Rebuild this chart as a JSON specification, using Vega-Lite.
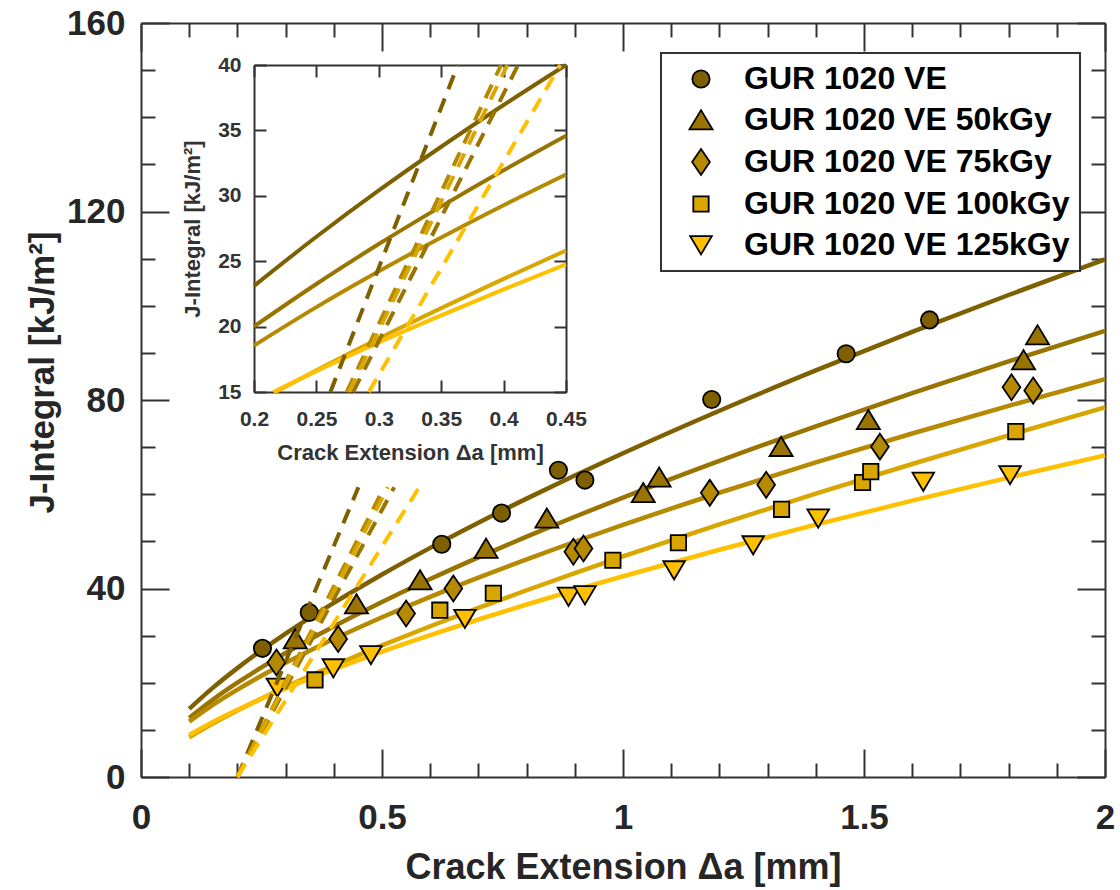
{
  "$schema": "https://vega.github.io/schema/vega-lite/v6.json",
  "width": 964,
  "height": 754,
  "autosize": "none",
  "padding": {"left": 141, "top": 23, "right": 15, "bottom": 113},
  "background": "white",
  "config": {
    "view": {"stroke": null},
    "font": "Liberation Sans",
    "axis": {
      "domainColor": "#333333", "domainWidth": 2, "tickColor": "#333333", "tickWidth": 2,
      "grid": false, "labelFlush": false, "labelOverlap": false,
      "labelFont": "Liberation Sans", "labelFontWeight": "bold", "labelColor": "#262626",
      "titleFont": "Liberation Sans", "titleFontWeight": "bold", "titleColor": "#262626"
    },
    "legend": {
      "labelFont": "Liberation Sans", "labelFontWeight": "bold", "labelFontSize": 32, "labelColor": "#000000",
      "labelLimit": 0, "symbolStrokeColor": "#000000", "symbolStrokeWidth": 1.8, "symbolSize": 576,
      "strokeColor": "#333333", "strokeWidth": 2, "fillColor": "white", "padding": 10,
      "rowPadding": 9, "labelOffset": 27, "symbolOffset": 14
    }
  },
  "datasets": {
    "pts": [
      {"series": "GUR 1020 VE", "da": 0.252, "J": 27.3},
      {"series": "GUR 1020 VE", "da": 0.349, "J": 34.9},
      {"series": "GUR 1020 VE", "da": 0.624, "J": 49.4},
      {"series": "GUR 1020 VE", "da": 0.748, "J": 56.0},
      {"series": "GUR 1020 VE", "da": 0.866, "J": 65.1},
      {"series": "GUR 1020 VE", "da": 0.921, "J": 63.0},
      {"series": "GUR 1020 VE", "da": 1.184, "J": 80.1},
      {"series": "GUR 1020 VE", "da": 1.463, "J": 89.8},
      {"series": "GUR 1020 VE", "da": 1.636, "J": 97.0},
      {"series": "GUR 1020 VE 50kGy", "da": 0.32, "J": 29.3},
      {"series": "GUR 1020 VE 50kGy", "da": 0.447, "J": 36.7},
      {"series": "GUR 1020 VE 50kGy", "da": 0.579, "J": 41.8},
      {"series": "GUR 1020 VE 50kGy", "da": 0.716, "J": 48.5},
      {"series": "GUR 1020 VE 50kGy", "da": 0.842, "J": 54.9},
      {"series": "GUR 1020 VE 50kGy", "da": 1.042, "J": 60.3},
      {"series": "GUR 1020 VE 50kGy", "da": 1.075, "J": 63.6},
      {"series": "GUR 1020 VE 50kGy", "da": 1.328, "J": 70.1},
      {"series": "GUR 1020 VE 50kGy", "da": 1.509, "J": 75.8},
      {"series": "GUR 1020 VE 50kGy", "da": 1.831, "J": 88.5},
      {"series": "GUR 1020 VE 50kGy", "da": 1.86, "J": 93.8},
      {"series": "GUR 1020 VE 75kGy", "da": 0.281, "J": 24.3},
      {"series": "GUR 1020 VE 75kGy", "da": 0.409, "J": 29.3},
      {"series": "GUR 1020 VE 75kGy", "da": 0.55, "J": 34.7},
      {"series": "GUR 1020 VE 75kGy", "da": 0.648, "J": 40.0},
      {"series": "GUR 1020 VE 75kGy", "da": 0.897, "J": 47.8},
      {"series": "GUR 1020 VE 75kGy", "da": 0.918, "J": 48.5},
      {"series": "GUR 1020 VE 75kGy", "da": 1.18, "J": 60.3},
      {"series": "GUR 1020 VE 75kGy", "da": 1.297, "J": 62.0},
      {"series": "GUR 1020 VE 75kGy", "da": 1.533, "J": 70.1},
      {"series": "GUR 1020 VE 75kGy", "da": 1.806, "J": 82.7},
      {"series": "GUR 1020 VE 75kGy", "da": 1.851, "J": 82.0},
      {"series": "GUR 1020 VE 100kGy", "da": 0.361, "J": 20.6},
      {"series": "GUR 1020 VE 100kGy", "da": 0.62, "J": 35.4},
      {"series": "GUR 1020 VE 100kGy", "da": 0.731, "J": 39.0},
      {"series": "GUR 1020 VE 100kGy", "da": 0.979, "J": 46.0},
      {"series": "GUR 1020 VE 100kGy", "da": 1.115, "J": 49.7},
      {"series": "GUR 1020 VE 100kGy", "da": 1.329, "J": 56.8},
      {"series": "GUR 1020 VE 100kGy", "da": 1.497, "J": 62.5},
      {"series": "GUR 1020 VE 100kGy", "da": 1.514, "J": 64.8},
      {"series": "GUR 1020 VE 100kGy", "da": 1.815, "J": 73.3},
      {"series": "GUR 1020 VE 125kGy", "da": 0.283, "J": 19.0},
      {"series": "GUR 1020 VE 125kGy", "da": 0.399, "J": 23.1},
      {"series": "GUR 1020 VE 125kGy", "da": 0.477, "J": 25.9},
      {"series": "GUR 1020 VE 125kGy", "da": 0.672, "J": 33.6},
      {"series": "GUR 1020 VE 125kGy", "da": 0.887, "J": 38.3},
      {"series": "GUR 1020 VE 125kGy", "da": 0.921, "J": 38.6},
      {"series": "GUR 1020 VE 125kGy", "da": 1.106, "J": 43.9},
      {"series": "GUR 1020 VE 125kGy", "da": 1.27, "J": 49.2},
      {"series": "GUR 1020 VE 125kGy", "da": 1.405, "J": 54.9},
      {"series": "GUR 1020 VE 125kGy", "da": 1.623, "J": 62.7},
      {"series": "GUR 1020 VE 125kGy", "da": 1.803, "J": 64.1}
    ],
    "fit": [
      {"series": "GUR 1020 VE", "da": 0.1, "J": 14.45}, {"series": "GUR 1020 VE", "da": 0.15, "J": 19.02}, {"series": "GUR 1020 VE", "da": 0.2, "J": 23.11}, {"series": "GUR 1020 VE", "da": 0.25, "J": 26.87}, {"series": "GUR 1020 VE", "da": 0.3, "J": 30.41}, {"series": "GUR 1020 VE", "da": 0.35, "J": 33.75}, {"series": "GUR 1020 VE", "da": 0.4, "J": 36.94}, {"series": "GUR 1020 VE", "da": 0.45, "J": 40.01}, {"series": "GUR 1020 VE", "da": 0.5, "J": 42.97}, {"series": "GUR 1020 VE", "da": 0.6, "J": 48.62}, {"series": "GUR 1020 VE", "da": 0.7, "J": 53.96}, {"series": "GUR 1020 VE", "da": 0.8, "J": 59.07}, {"series": "GUR 1020 VE", "da": 0.9, "J": 63.97}, {"series": "GUR 1020 VE", "da": 1.0, "J": 68.7}, {"series": "GUR 1020 VE", "da": 1.2, "J": 77.73}, {"series": "GUR 1020 VE", "da": 1.4, "J": 86.27}, {"series": "GUR 1020 VE", "da": 1.6, "J": 94.44}, {"series": "GUR 1020 VE", "da": 1.8, "J": 102.28}, {"series": "GUR 1020 VE", "da": 2.0, "J": 109.84},
      {"series": "GUR 1020 VE 50kGy", "da": 0.1, "J": 12.53}, {"series": "GUR 1020 VE 50kGy", "da": 0.15, "J": 16.48}, {"series": "GUR 1020 VE 50kGy", "da": 0.2, "J": 20.01}, {"series": "GUR 1020 VE 50kGy", "da": 0.25, "J": 23.26}, {"series": "GUR 1020 VE 50kGy", "da": 0.3, "J": 26.31}, {"series": "GUR 1020 VE 50kGy", "da": 0.35, "J": 29.19}, {"series": "GUR 1020 VE 50kGy", "da": 0.4, "J": 31.95}, {"series": "GUR 1020 VE 50kGy", "da": 0.45, "J": 34.59}, {"series": "GUR 1020 VE 50kGy", "da": 0.5, "J": 37.14}, {"series": "GUR 1020 VE 50kGy", "da": 0.6, "J": 42.01}, {"series": "GUR 1020 VE 50kGy", "da": 0.7, "J": 46.61}, {"series": "GUR 1020 VE 50kGy", "da": 0.8, "J": 51.01}, {"series": "GUR 1020 VE 50kGy", "da": 0.9, "J": 55.23}, {"series": "GUR 1020 VE 50kGy", "da": 1.0, "J": 59.3}, {"series": "GUR 1020 VE 50kGy", "da": 1.2, "J": 67.07}, {"series": "GUR 1020 VE 50kGy", "da": 1.4, "J": 74.42}, {"series": "GUR 1020 VE 50kGy", "da": 1.6, "J": 81.44}, {"series": "GUR 1020 VE 50kGy", "da": 1.8, "J": 88.18}, {"series": "GUR 1020 VE 50kGy", "da": 2.0, "J": 94.68},
      {"series": "GUR 1020 VE 75kGy", "da": 0.1, "J": 11.76}, {"series": "GUR 1020 VE 75kGy", "da": 0.15, "J": 15.35}, {"series": "GUR 1020 VE 75kGy", "da": 0.2, "J": 18.55}, {"series": "GUR 1020 VE 75kGy", "da": 0.25, "J": 21.49}, {"series": "GUR 1020 VE 75kGy", "da": 0.3, "J": 24.23}, {"series": "GUR 1020 VE 75kGy", "da": 0.35, "J": 26.81}, {"series": "GUR 1020 VE 75kGy", "da": 0.4, "J": 29.28}, {"series": "GUR 1020 VE 75kGy", "da": 0.45, "J": 31.63}, {"series": "GUR 1020 VE 75kGy", "da": 0.5, "J": 33.9}, {"series": "GUR 1020 VE 75kGy", "da": 0.6, "J": 38.23}, {"series": "GUR 1020 VE 75kGy", "da": 0.7, "J": 42.31}, {"series": "GUR 1020 VE 75kGy", "da": 0.8, "J": 46.19}, {"series": "GUR 1020 VE 75kGy", "da": 0.9, "J": 49.92}, {"series": "GUR 1020 VE 75kGy", "da": 1.0, "J": 53.5}, {"series": "GUR 1020 VE 75kGy", "da": 1.2, "J": 60.32}, {"series": "GUR 1020 VE 75kGy", "da": 1.4, "J": 66.76}, {"series": "GUR 1020 VE 75kGy", "da": 1.6, "J": 72.89}, {"series": "GUR 1020 VE 75kGy", "da": 1.8, "J": 78.76}, {"series": "GUR 1020 VE 75kGy", "da": 2.0, "J": 84.42},
      {"series": "GUR 1020 VE 100kGy", "da": 0.1, "J": 8.42}, {"series": "GUR 1020 VE 100kGy", "da": 0.15, "J": 11.39}, {"series": "GUR 1020 VE 100kGy", "da": 0.2, "J": 14.11}, {"series": "GUR 1020 VE 100kGy", "da": 0.25, "J": 16.66}, {"series": "GUR 1020 VE 100kGy", "da": 0.3, "J": 19.09}, {"series": "GUR 1020 VE 100kGy", "da": 0.35, "J": 21.41}, {"series": "GUR 1020 VE 100kGy", "da": 0.4, "J": 23.65}, {"series": "GUR 1020 VE 100kGy", "da": 0.45, "J": 25.82}, {"series": "GUR 1020 VE 100kGy", "da": 0.5, "J": 27.92}, {"series": "GUR 1020 VE 100kGy", "da": 0.6, "J": 31.99}, {"series": "GUR 1020 VE 100kGy", "da": 0.7, "J": 35.88}, {"series": "GUR 1020 VE 100kGy", "da": 0.8, "J": 39.63}, {"series": "GUR 1020 VE 100kGy", "da": 0.9, "J": 43.27}, {"series": "GUR 1020 VE 100kGy", "da": 1.0, "J": 46.8}, {"series": "GUR 1020 VE 100kGy", "da": 1.2, "J": 53.61}, {"series": "GUR 1020 VE 100kGy", "da": 1.4, "J": 60.13}, {"series": "GUR 1020 VE 100kGy", "da": 1.6, "J": 66.42}, {"series": "GUR 1020 VE 100kGy", "da": 1.8, "J": 72.51}, {"series": "GUR 1020 VE 100kGy", "da": 2.0, "J": 78.44},
      {"series": "GUR 1020 VE 125kGy", "da": 0.1, "J": 8.9}, {"series": "GUR 1020 VE 125kGy", "da": 0.15, "J": 11.73}, {"series": "GUR 1020 VE 125kGy", "da": 0.2, "J": 14.26}, {"series": "GUR 1020 VE 125kGy", "da": 0.25, "J": 16.6}, {"series": "GUR 1020 VE 125kGy", "da": 0.3, "J": 18.79}, {"series": "GUR 1020 VE 125kGy", "da": 0.35, "J": 20.86}, {"series": "GUR 1020 VE 125kGy", "da": 0.4, "J": 22.85}, {"series": "GUR 1020 VE 125kGy", "da": 0.45, "J": 24.75}, {"series": "GUR 1020 VE 125kGy", "da": 0.5, "J": 26.59}, {"series": "GUR 1020 VE 125kGy", "da": 0.6, "J": 30.1}, {"series": "GUR 1020 VE 125kGy", "da": 0.7, "J": 33.42}, {"series": "GUR 1020 VE 125kGy", "da": 0.8, "J": 36.6}, {"series": "GUR 1020 VE 125kGy", "da": 0.9, "J": 39.65}, {"series": "GUR 1020 VE 125kGy", "da": 1.0, "J": 42.6}, {"series": "GUR 1020 VE 125kGy", "da": 1.2, "J": 48.22}, {"series": "GUR 1020 VE 125kGy", "da": 1.4, "J": 53.55}, {"series": "GUR 1020 VE 125kGy", "da": 1.6, "J": 58.64}, {"series": "GUR 1020 VE 125kGy", "da": 1.8, "J": 63.53}, {"series": "GUR 1020 VE 125kGy", "da": 2.0, "J": 68.25}
    ],
    "blunt": [
      {"series": "GUR 1020 VE", "da": 0.2, "J": 0}, {"series": "GUR 1020 VE", "da": 0.451, "J": 61.5},
      {"series": "GUR 1020 VE 50kGy", "da": 0.2, "J": 0}, {"series": "GUR 1020 VE 50kGy", "da": 0.5254, "J": 61.5},
      {"series": "GUR 1020 VE 75kGy", "da": 0.2, "J": 0}, {"series": "GUR 1020 VE 75kGy", "da": 0.5045, "J": 61.5},
      {"series": "GUR 1020 VE 100kGy", "da": 0.2, "J": 0}, {"series": "GUR 1020 VE 100kGy", "da": 0.5122, "J": 61.5},
      {"series": "GUR 1020 VE 125kGy", "da": 0.2, "J": 0}, {"series": "GUR 1020 VE 125kGy", "da": 0.5773, "J": 61.5}
    ],
    "fitInset": [
      {"series": "GUR 1020 VE", "da": 0.2, "J": 23.11}, {"series": "GUR 1020 VE", "da": 0.25, "J": 26.87}, {"series": "GUR 1020 VE", "da": 0.3, "J": 30.41}, {"series": "GUR 1020 VE", "da": 0.35, "J": 33.75}, {"series": "GUR 1020 VE", "da": 0.4, "J": 36.94}, {"series": "GUR 1020 VE", "da": 0.45, "J": 40.0},
      {"series": "GUR 1020 VE 50kGy", "da": 0.2, "J": 20.01}, {"series": "GUR 1020 VE 50kGy", "da": 0.25, "J": 23.26}, {"series": "GUR 1020 VE 50kGy", "da": 0.3, "J": 26.31}, {"series": "GUR 1020 VE 50kGy", "da": 0.35, "J": 29.19}, {"series": "GUR 1020 VE 50kGy", "da": 0.4, "J": 31.95}, {"series": "GUR 1020 VE 50kGy", "da": 0.45, "J": 34.59},
      {"series": "GUR 1020 VE 75kGy", "da": 0.2, "J": 18.55}, {"series": "GUR 1020 VE 75kGy", "da": 0.25, "J": 21.49}, {"series": "GUR 1020 VE 75kGy", "da": 0.3, "J": 24.23}, {"series": "GUR 1020 VE 75kGy", "da": 0.35, "J": 26.81}, {"series": "GUR 1020 VE 75kGy", "da": 0.4, "J": 29.28}, {"series": "GUR 1020 VE 75kGy", "da": 0.45, "J": 31.63},
      {"series": "GUR 1020 VE 100kGy", "da": 0.2172, "J": 15.0}, {"series": "GUR 1020 VE 100kGy", "da": 0.25, "J": 16.66}, {"series": "GUR 1020 VE 100kGy", "da": 0.3, "J": 19.09}, {"series": "GUR 1020 VE 100kGy", "da": 0.35, "J": 21.41}, {"series": "GUR 1020 VE 100kGy", "da": 0.4, "J": 23.65}, {"series": "GUR 1020 VE 100kGy", "da": 0.45, "J": 25.82},
      {"series": "GUR 1020 VE 125kGy", "da": 0.2155, "J": 15.0}, {"series": "GUR 1020 VE 125kGy", "da": 0.25, "J": 16.6}, {"series": "GUR 1020 VE 125kGy", "da": 0.3, "J": 18.79}, {"series": "GUR 1020 VE 125kGy", "da": 0.35, "J": 20.86}, {"series": "GUR 1020 VE 125kGy", "da": 0.4, "J": 22.85}, {"series": "GUR 1020 VE 125kGy", "da": 0.45, "J": 24.75}
    ],
    "bluntInset": [
      {"series": "GUR 1020 VE", "da": 0.2612, "J": 15}, {"series": "GUR 1020 VE", "da": 0.3633, "J": 40},
      {"series": "GUR 1020 VE 50kGy", "da": 0.2794, "J": 15}, {"series": "GUR 1020 VE 50kGy", "da": 0.4116, "J": 40},
      {"series": "GUR 1020 VE 75kGy", "da": 0.2743, "J": 15}, {"series": "GUR 1020 VE 75kGy", "da": 0.398, "J": 40},
      {"series": "GUR 1020 VE 100kGy", "da": 0.2761, "J": 15}, {"series": "GUR 1020 VE 100kGy", "da": 0.403, "J": 40},
      {"series": "GUR 1020 VE 125kGy", "da": 0.292, "J": 15}, {"series": "GUR 1020 VE 125kGy", "da": 0.4454, "J": 40}
    ]
  },
  "layer": [
    {
      "layer": [
        {
          "data": {"name": "fit"},
          "mark": {"type": "line", "strokeWidth": 4.5, "interpolate": "monotone"},
          "encoding": {
            "x": {"field": "da", "type": "quantitative", "scale": {"domain": [0, 2], "nice": false, "zero": false}, "axis": null},
            "y": {"field": "J", "type": "quantitative", "scale": {"domain": [0, 160], "nice": false, "zero": false}, "axis": null},
            "stroke": {"field": "series", "type": "nominal", "legend": null,
              "scale": {"domain": ["GUR 1020 VE 125kGy", "GUR 1020 VE 100kGy", "GUR 1020 VE 75kGy", "GUR 1020 VE 50kGy", "GUR 1020 VE"],
                "range": ["#FFC000", "#D9A600", "#B58A00", "#9A7400", "#7F6000"]}}
          }
        },
        {
          "data": {"name": "pts"},
          "mark": {"type": "point", "filled": true, "opacity": 1, "stroke": "#000000", "strokeWidth": 1.8, "size": 576},
          "encoding": {
            "x": {"field": "da", "type": "quantitative",
              "axis": {"orient": "bottom", "values": [0, 0.5, 1, 1.5, 2], "format": "~g", "tickSize": -28, "labelPadding": 51, "labelFontSize": 35,
                "title": "Crack Extension Δa [mm]", "titleFontSize": 36, "titlePadding": 15}},
            "y": {"field": "J", "type": "quantitative",
              "axis": {"orient": "left", "values": [0, 40, 80, 120, 160], "tickSize": -28, "labelPadding": 44, "labelFontSize": 35,
                "title": "J-Integral [kJ/m²]", "titleFontSize": 35, "titlePadding": 6, "titleY": 349}},
            "color": {"field": "series", "type": "nominal",
              "scale": {"domain": ["GUR 1020 VE", "GUR 1020 VE 50kGy", "GUR 1020 VE 75kGy", "GUR 1020 VE 100kGy", "GUR 1020 VE 125kGy"],
                "range": ["#7F6000", "#9A7400", "#B58A00", "#D9A600", "#FFC000"]},
              "legend": {"orient": "none", "legendX": 520, "legendY": 30, "title": null}},
            "shape": {"field": "series", "type": "nominal",
              "scale": {"domain": ["GUR 1020 VE", "GUR 1020 VE 50kGy", "GUR 1020 VE 75kGy", "GUR 1020 VE 100kGy", "GUR 1020 VE 125kGy"],
                "range": [
                  "M0.72,0A0.72,0.72 0 1,1 -0.72,0A0.72,0.72 0 1,1 0.72,0Z",
                  "M0,-0.82L0.96,0.78L-0.96,0.78Z",
                  "M0,-1.08L0.74,0L0,1.08L-0.74,0Z",
                  "M-0.64,-0.64L0.64,-0.64L0.64,0.64L-0.64,0.64Z",
                  "M-0.9,-0.74L0.9,-0.74L0,0.78Z"
                ]},
              "legend": {"orient": "none", "legendX": 520, "legendY": 30, "title": null}}
          }
        },
        {
          "data": {"name": "blunt"},
          "mark": {"type": "line", "strokeWidth": 4, "strokeDash": [15, 10], "strokeCap": "butt"},
          "encoding": {
            "x": {"field": "da", "type": "quantitative", "axis": null},
            "y": {"field": "J", "type": "quantitative", "axis": null},
            "stroke": {"field": "series", "type": "nominal", "legend": null}
          }
        },
        {
          "data": {"name": "pts"},
          "mark": {"type": "point", "opacity": 0},
          "encoding": {
            "x": {"field": "da", "type": "quantitative",
              "axis": {"orient": "bottom", "values": [0.1, 0.2, 0.3, 0.4, 0.6, 0.7, 0.8, 0.9, 1.1, 1.2, 1.3, 1.4, 1.6, 1.7, 1.8, 1.9], "tickSize": -14, "labels": false, "domain": false, "title": null}},
            "y": {"field": "J", "type": "quantitative",
              "axis": {"orient": "left", "values": [10, 20, 30, 50, 60, 70, 90, 100, 110, 130, 140, 150], "tickSize": -14, "labels": false, "domain": false, "title": null}}
          }
        },
        {
          "data": {"name": "pts"},
          "mark": {"type": "point", "opacity": 0},
          "encoding": {
            "x": {"field": "da", "type": "quantitative",
              "axis": {"orient": "top", "values": [0, 0.5, 1, 1.5, 2], "tickSize": -28, "labels": false, "title": null}},
            "y": {"field": "J", "type": "quantitative",
              "axis": {"orient": "right", "values": [0, 40, 80, 120, 160], "tickSize": -28, "labels": false, "title": null}}
          }
        },
        {
          "data": {"name": "pts"},
          "mark": {"type": "point", "opacity": 0},
          "encoding": {
            "x": {"field": "da", "type": "quantitative",
              "axis": {"orient": "top", "values": [0.1, 0.2, 0.3, 0.4, 0.6, 0.7, 0.8, 0.9, 1.1, 1.2, 1.3, 1.4, 1.6, 1.7, 1.8, 1.9], "tickSize": -14, "labels": false, "domain": false, "title": null}},
            "y": {"field": "J", "type": "quantitative",
              "axis": {"orient": "right", "values": [10, 20, 30, 50, 60, 70, 90, 100, 110, 130, 140, 150], "tickSize": -14, "labels": false, "domain": false, "title": null}}
          }
        }
      ],
      "resolve": {"axis": {"x": "independent", "y": "independent"}}
    },
    {
      "layer": [
        {
          "data": {"name": "fitInset"},
          "mark": {"type": "line", "strokeWidth": 4, "interpolate": "monotone"},
          "encoding": {
            "x": {"field": "da", "type": "quantitative", "scale": {"domain": [0.2, 0.45], "range": [113, 425], "nice": false, "zero": false},
              "axis": {"orient": "bottom", "offset": -385, "values": [0.2, 0.25, 0.3, 0.35, 0.4, 0.45], "format": "~g", "tickSize": -12, "labelPadding": 28,
                "labelFontSize": 21, "labelColor": "#333333", "title": "Crack Extension Δa [mm]", "titleFontSize": 22, "titleColor": "#333333", "titlePadding": 13}},
            "y": {"field": "J", "type": "quantitative", "scale": {"domain": [15, 40], "range": [369, 42], "nice": false, "zero": false},
              "axis": {"orient": "left", "offset": -113, "values": [15, 20, 25, 30, 35, 40], "tickSize": -12, "labelPadding": 25,
                "labelFontSize": 21, "labelColor": "#333333", "title": "J-Integral [kJ/m²]", "titleFontSize": 22, "titleColor": "#333333", "titlePadding": 13}},
            "stroke": {"field": "series", "type": "nominal", "legend": null}
          }
        },
        {
          "data": {"name": "bluntInset"},
          "mark": {"type": "line", "strokeWidth": 4, "strokeDash": [15, 10], "strokeCap": "butt"},
          "encoding": {
            "x": {"field": "da", "type": "quantitative", "axis": null},
            "y": {"field": "J", "type": "quantitative", "axis": null},
            "stroke": {"field": "series", "type": "nominal", "legend": null}
          }
        },
        {
          "data": {"name": "fitInset"},
          "mark": {"type": "point", "opacity": 0},
          "encoding": {
            "x": {"field": "da", "type": "quantitative",
              "axis": {"orient": "top", "offset": -42, "values": [0.2, 0.25, 0.3, 0.35, 0.4, 0.45], "tickSize": -12, "labels": false, "title": null}},
            "y": {"field": "J", "type": "quantitative",
              "axis": {"orient": "right", "offset": -539, "values": [15, 20, 25, 30, 35, 40], "tickSize": -12, "labels": false, "title": null}}
          }
        }
      ],
      "resolve": {"axis": {"x": "independent", "y": "independent"}}
    }
  ],
  "resolve": {"scale": {"x": "independent", "y": "independent"}, "axis": {"x": "independent", "y": "independent"}}
}
